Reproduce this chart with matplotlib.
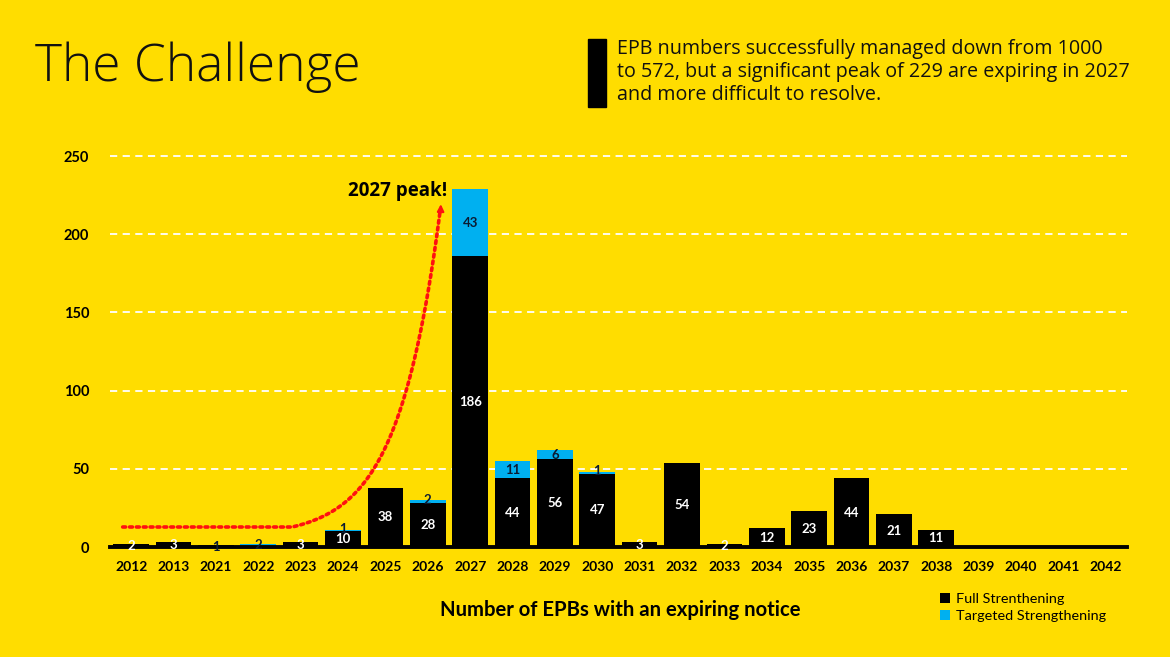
import matplotlib
matplotlib.use("Agg")
import matplotlib.pyplot as plt
import numpy as np
from matplotlib.patches import Rectangle

years = ["2012", "2013", "2021", "2022", "2023", "2024", "2025", "2026", "2027", "2028",
         "2029", "2030", "2031", "2032", "2033", "2034", "2035", "2036", "2037", "2038",
         "2039", "2040", "2041", "2042"]
full = [2, 3, 1, 0, 3, 10, 38, 28, 186, 44, 56, 47, 3, 54, 2, 12, 23, 44, 21, 11, 0, 0, 0, 0]
targeted = [0, 0, 0, 2, 0, 1, 0, 2, 43, 11, 6, 1, 0, 0, 0, 0, 0, 0, 0, 0, 0, 0, 0, 0]
yticks = [0, 50, 100, 150, 200, 250]

BG = "#FFDD00"
CYAN = "#00B0F0"
DARK = "#0B1B33"
FONT = "Lato"

fig = plt.figure(figsize=(11.7, 6.57), dpi=100, facecolor=BG)
ax = fig.add_axes([0.0940, 0.1674, 0.8692, 0.5951])
ax.set_facecolor(BG)

x = np.arange(len(years))
w = 0.84
ax.bar(x, full, width=w, color="black", label="Full Strenthening", zorder=3)
ax.bar(x, targeted, width=w, bottom=full, color=CYAN, label="Targeted Strengthening", zorder=3)

for i, (f, t) in enumerate(zip(full, targeted)):
    if f > 0:
        col = "white" if f >= 2 else DARK
        yy = f / 2 if f >= 8 else max(f / 2 - 0.5, 0.2)
        ax.text(i, yy, str(f), ha="center", va="center", color=col, fontsize=9.5,
                fontweight="bold", family=FONT, zorder=5)
    if t > 0:
        yy = f + t / 2 + (1.0 if t < 3 and f > 5 else 0)
        ax.text(i, yy, str(t), ha="center", va="center", color=DARK, fontsize=9.5,
                fontweight="bold", family=FONT, zorder=5)

ax.set_xlim(-0.5, len(years) - 0.5)
ax.set_ylim(0, 250)
ax.set_yticks(yticks)
ax.set_yticklabels([str(v) for v in yticks], fontsize=10.5, fontweight="bold", family=FONT)
ax.set_xticks(x)
ax.set_xticklabels(years, fontsize=10, fontweight="bold", family=FONT)
ax.tick_params(length=0, pad=10)
ax.tick_params(axis="y", pad=15)
for v in yticks[1:]:
    ax.axhline(v, color="white", lw=1.3, ls=(0, (4, 3)), zorder=1, clip_on=False)
for s in ["top", "right", "left"]:
    ax.spines[s].set_visible(False)
ax.spines["bottom"].set_linewidth(2.8)
ax.spines["bottom"].set_zorder(4)

# red dotted trend arrow (annotation)
x0, y0 = 3.8, 12.8
xs1 = np.linspace(-0.2, x0, 20)
ys1 = np.full_like(xs1, y0)
xs2 = np.linspace(x0, 7.29, 80)
ys2 = y0 + 6.35 * (np.exp(1.0 * (xs2 - x0)) - 1)
xs = np.concatenate([xs1, xs2])
ys = np.concatenate([ys1, ys2])
ax.plot(xs, ys, color="#FF1010", lw=2.6, ls=(0, (0.8, 1.1)), zorder=6, dash_capstyle="round")
ax.annotate("", xy=(7.31, 221), xytext=(7.30, 212),
            arrowprops=dict(arrowstyle="-|>", color="#FF1010", lw=1.5, mutation_scale=10),
            zorder=7)
ax.text(7.45, 227.5, "2027 peak!", ha="right", va="center", fontsize=13.5,
        fontweight="bold", family="Open Sans", zorder=7)

fig.text(0.530, 0.071, "Number of EPBs with an expiring notice", ha="center", va="center",
         fontsize=14.6, fontweight="bold", family=FONT)

leg = fig.legend(loc="upper left", bbox_to_anchor=(0.797, 0.108), frameon=False,
                 prop={"family": FONT, "size": 10.4}, handlelength=0.7, handleheight=0.7,
                 handletextpad=0.4, labelspacing=0.3, borderpad=0)

fig.text(0.030, 0.897, "The Challenge", fontsize=37, family="Open Sans", fontweight="light",
         ha="left", va="center", color="#111111")
fig.patches.append(Rectangle((588 / 1170, 1 - 107 / 657), 18 / 1170, 68 / 657,
                             transform=fig.transFigure, color="black"))
fig.text(617 / 1170, 1 - 72 / 657,
         "EPB numbers successfully managed down from 1000\nto 572, but a significant peak of 229 are expiring in 2027\nand more difficult to resolve.",
         fontsize=14.2, family="Open Sans", ha="left", va="center", linespacing=1.22, color="#111111")

fig.savefig("out.png", dpi=100, facecolor=BG)
